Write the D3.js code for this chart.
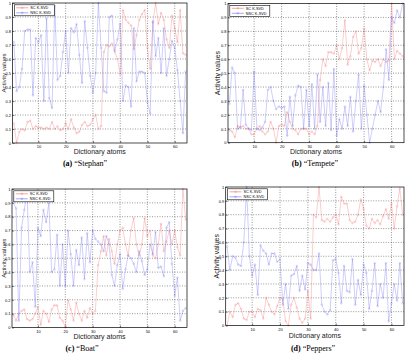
<!DOCTYPE html>
<html><head><meta charset="utf-8">
<script src="https://cdn.jsdelivr.net/npm/d3@7"></script>
<style>html,body{margin:0;padding:0;background:#fff;}svg{display:block;}</style>
</head><body>
<script>
// ---- data ----
const atoms = d3.range(1, 65);
const xTicks = [10, 20, 30, 40, 50, 60];
const yTicks = [0, 0.1, 0.2, 0.3, 0.4, 0.5, 0.6, 0.7, 0.8, 0.9, 1];
const seriesNames = ["SC K-SVD", "NSC K-SVD"];
const imageNames = ["Stephan", "Tempete", "Boat", "Peppers"];
const panelLetters = ["a", "b", "c", "d"];

const stephanSC = [0.14,0.00,0.08,0.10,0.09,0.15,0.16,0.10,0.12,0.11,
  0.11,0.10,0.11,0.10,0.15,0.10,0.12,0.09,0.10,0.14,
  0.10,0.17,0.11,0.07,0.08,0.13,0.15,0.12,0.13,0.17,
  0.20,0.10,0.12,0.65,0.70,0.69,0.71,0.65,0.60,0.49,
  0.95,0.88,0.86,0.84,0.67,0.77,0.88,0.92,0.95,0.68,
  0.53,0.86,1.00,0.85,0.93,0.88,0.74,0.68,0.91,0.82,
  0.72,0.95,0.64,0.63];
const stephanNSC = [0.72,0.37,0.40,0.53,0.80,0.81,0.81,0.34,0.75,0.72,
  0.77,0.30,0.89,0.32,0.25,0.98,0.45,0.48,0.65,0.80,
  0.50,0.82,0.79,0.85,0.63,0.43,0.87,0.68,0.48,0.36,
  0.50,1.00,0.68,0.37,0.36,0.90,0.91,0.66,0.74,0.85,
  0.30,0.41,0.40,0.26,0.82,0.44,0.51,0.51,0.50,0.29,
  0.21,0.87,0.62,0.75,0.50,0.82,0.48,0.60,0.73,0.68,
  0.52,0.30,0.07,0.51];
const tempeteSC = [0.09,0.08,0.04,0.12,0.11,0.12,0.10,0.10,0.06,0.06,
  0.10,0.12,0.08,0.06,0.08,0.15,0.10,0.00,0.12,0.13,
  0.12,0.22,0.15,0.10,0.09,0.06,0.10,0.10,0.10,0.06,
  0.08,0.06,0.12,0.45,0.60,0.55,0.65,0.65,0.64,0.70,
  0.60,0.68,0.88,0.56,0.62,0.76,0.80,0.64,0.68,0.82,
  0.60,0.52,0.59,0.58,0.60,0.55,0.60,0.58,0.59,1.00,
  0.60,0.66,0.64,0.62];
const tempeteNSC = [0.28,0.54,0.50,0.10,0.11,0.38,0.13,0.10,0.09,0.51,
  0.10,0.09,0.11,0.15,0.38,0.40,0.30,0.24,0.26,0.25,
  0.26,0.05,0.33,0.12,0.34,0.41,0.40,0.10,0.38,0.12,
  0.42,0.10,0.49,0.15,0.40,0.12,0.43,0.09,0.53,0.05,
  0.17,0.10,0.26,0.12,0.33,0.08,0.30,0.49,0.10,0.41,
  0.20,0.00,0.10,0.20,0.30,0.22,0.40,0.67,0.45,0.90,
  0.86,0.95,0.90,1.00];
const boatSC = [0.09,0.05,0.10,0.12,0.13,0.06,0.05,0.06,0.10,0.15,
  0.02,0.12,0.10,0.04,0.13,0.16,0.16,0.07,0.05,0.00,
  0.20,0.13,0.05,0.18,0.10,0.05,0.12,0.07,0.14,0.10,
  0.12,0.45,0.55,0.66,0.52,0.64,0.55,0.46,0.60,0.70,
  0.72,0.60,0.52,0.70,0.79,0.60,0.52,0.60,0.79,0.66,
  0.70,0.52,0.50,0.60,0.75,0.55,0.62,0.70,0.60,0.70,
  0.58,0.52,1.00,0.78];
const boatNSC = [0.90,0.86,0.05,0.72,0.85,0.98,0.40,0.47,0.15,0.72,
  0.66,0.85,0.76,0.90,0.40,0.42,0.67,0.30,0.60,0.30,
  0.70,0.53,0.30,0.56,0.45,0.65,0.35,0.68,0.47,0.70,
  0.64,0.62,0.60,0.55,0.66,0.60,0.38,0.30,0.45,0.53,
  0.28,0.42,0.52,0.50,0.46,0.40,0.55,0.48,0.38,0.42,
  0.60,0.53,0.69,0.43,0.44,0.37,0.72,0.76,0.46,0.23,
  0.36,0.05,0.12,0.14];
const peppersSC = [0.00,0.10,0.06,0.15,0.16,0.12,0.05,0.04,0.10,0.10,
  0.06,0.12,0.11,0.05,0.20,0.15,0.10,0.08,0.14,0.20,
  0.19,0.03,0.00,0.15,0.20,0.13,0.05,0.02,0.05,0.25,
  0.05,0.80,0.78,1.00,0.76,0.75,0.77,0.75,0.78,0.80,
  0.73,0.93,0.88,0.88,0.76,0.74,0.75,0.80,0.91,0.84,
  0.72,0.70,0.77,0.74,0.76,0.73,0.79,0.84,0.77,0.88,
  0.70,0.86,0.99,0.80];
const peppersNSC = [0.57,0.40,0.50,0.49,0.44,0.43,0.60,1.00,0.50,0.36,
  0.44,0.22,0.58,0.54,0.52,0.44,0.52,0.52,0.46,0.48,
  0.15,0.30,0.12,0.36,0.37,0.43,0.25,0.36,0.26,0.45,
  0.44,0.40,0.40,0.52,0.15,0.10,0.08,0.11,0.47,0.48,
  0.38,0.16,0.43,0.25,0.24,0.48,0.15,0.33,0.22,0.44,
  0.38,0.12,0.25,0.45,0.14,0.30,0.20,0.45,0.03,0.16,
  0.30,0.18,0.45,0.16];

const panelSeries = [[stephanSC, stephanNSC],[tempeteSC, tempeteNSC],[boatSC, boatNSC],[peppersSC, peppersNSC]];

// ---- layout ----
const W = 407, H = 358;
const boxes = [
  {l:12.5, r:187, t:3, b:143, ylab:5.6, ylabSize:6.2, xlabY:154, capX:85, capY:166},
  {l:228, r:404, t:3.5, b:142.7, ylab:219.5, ylabSize:7, xlabY:154, capX:315, capY:166},
  {l:12, r:187, t:189, b:327.5, ylab:5.6, ylabSize:6.2, xlabY:339, capX:82, capY:351},
  {l:225.7, r:404, t:187, b:325.5, ylab:219, ylabSize:7, xlabY:337.5, capX:313, capY:351}
];
const colors = ["#f06a6a", "#6a6af0"];
const sans = "'Liberation Sans', Arial, sans-serif";
const serif = "'Liberation Serif', 'Times New Roman', serif";

const svg = d3.select("body").append("svg").attr("width", W).attr("height", H);

boxes.forEach((bx, p) => {
  const x = d3.scaleLinear().domain([0.5, 64.5]).range([bx.l, bx.r]);
  const y = d3.scaleLinear().domain([0, 1]).range([bx.b, bx.t]);
  const g = svg.append("g");

  // grid
  g.selectAll(".gx").data(xTicks).join("line")
    .attr("x1", d => x(d)).attr("x2", d => x(d)).attr("y1", bx.t).attr("y2", bx.b)
    .attr("stroke", "#333").attr("stroke-width", 0.5).attr("stroke-dasharray", "1,1.5");
  g.selectAll(".gy").data(yTicks.slice(1, -1)).join("line")
    .attr("y1", d => y(d)).attr("y2", d => y(d)).attr("x1", bx.l).attr("x2", bx.r)
    .attr("stroke", "#333").attr("stroke-width", 0.5).attr("stroke-dasharray", "1,1.5");

  // axes
  const xa = g.append("g").attr("transform", `translate(0,${bx.b})`)
    .call(d3.axisBottom(x).tickValues(xTicks).tickSize(-2).tickPadding(2.5).tickFormat(d3.format("d")));
  const ya = g.append("g").attr("transform", `translate(${bx.l},0)`)
    .call(d3.axisLeft(y).tickValues(yTicks).tickSize(-2).tickPadding(1.5).tickFormat(d => d === 0 || d === 1 ? d : d3.format(".1f")(d)));
  [xa, ya].forEach(a => {
    a.select(".domain").remove();
    a.selectAll("line").attr("stroke", "#000").attr("stroke-width", 0.5);
    a.selectAll("text").attr("font-family", sans).attr("font-size", 4).attr("fill", "#000");
  });

  // series
  panelSeries[p].forEach((vals, s) => {
    const line = d3.line().x((d, i) => x(atoms[i])).y(d => y(d));
    g.append("path").attr("d", line(vals)).attr("fill", "none")
      .attr("stroke", colors[s]).attr("stroke-width", 0.5).attr("stroke-opacity", 0.65);
    g.selectAll(null).data(vals).join("circle")
      .attr("cx", (d, i) => x(atoms[i])).attr("cy", d => y(d)).attr("r", 0.9)
      .attr("fill", "none").attr("stroke", colors[s]).attr("stroke-width", 0.35).attr("stroke-opacity", 0.65);
  });

  // frame
  g.append("rect").attr("x", bx.l).attr("y", bx.t).attr("width", bx.r - bx.l).attr("height", bx.b - bx.t)
    .attr("fill", "none").attr("stroke", "#000").attr("stroke-width", 0.7);

  // legend
  const lx = bx.l + 1.8, ly = bx.t + 1.8;
  const lg = g.append("g");
  lg.append("rect").attr("x", lx).attr("y", ly).attr("width", 40).attr("height", 11)
    .attr("fill", "#fff").attr("stroke", "#000").attr("stroke-width", 0.6);
  seriesNames.forEach((n, s) => {
    const yy = ly + 3 + s * 5;
    lg.append("line").attr("x1", lx + 2).attr("x2", lx + 14).attr("y1", yy).attr("y2", yy)
      .attr("stroke", colors[s]).attr("stroke-width", 0.6);
    lg.append("circle").attr("cx", lx + 8).attr("cy", yy).attr("r", 0.9)
      .attr("fill", "none").attr("stroke", colors[s]).attr("stroke-width", 0.35);
    lg.append("text").attr("x", lx + 16).attr("y", yy + 1.3).text(n)
      .attr("font-family", sans).attr("font-size", 3.8).attr("fill", "#000");
  });

  // axis labels
  g.append("text").attr("x", (bx.l + bx.r) / 2).attr("y", bx.xlabY).attr("text-anchor", "middle")
    .attr("font-family", sans).attr("font-size", 7).attr("fill", "#222").text("Dictionary atoms");
  g.append("text").attr("transform", `translate(${bx.ylab},${(bx.t + bx.b) / 2}) rotate(-90)`)
    .attr("text-anchor", "middle").attr("font-family", sans).attr("font-size", bx.ylabSize).attr("fill", "#222")
    .text("Activity values");

  // caption
  const cap = g.append("text").attr("x", bx.capX).attr("y", bx.capY).attr("text-anchor", "middle")
    .attr("font-family", serif).attr("font-size", 8).attr("fill", "#000");
  cap.append("tspan").attr("font-weight", "bold").text(`(${panelLetters[p]})`);
  cap.append("tspan").text(`  \u201C${imageNames[p]}\u201D`);
});
</script>
</body></html>
